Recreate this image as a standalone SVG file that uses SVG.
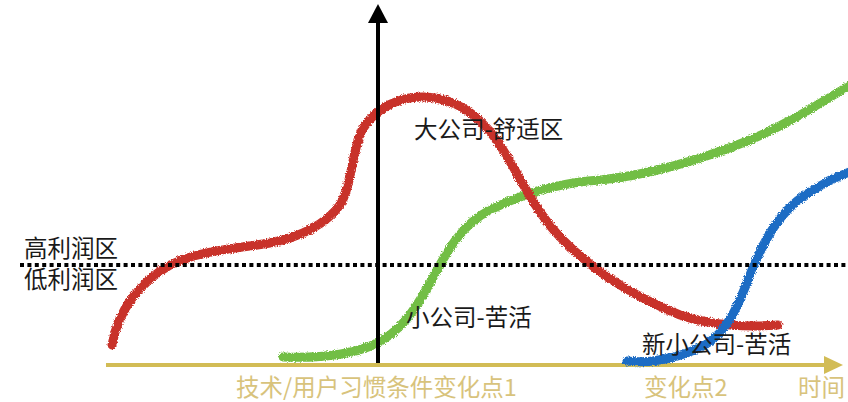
<svg xmlns="http://www.w3.org/2000/svg" width="848" height="402" viewBox="0 0 848 402">
<style>
.curve{fill:none;stroke-width:9;stroke-linecap:round;stroke-linejoin:round;filter:url(#rough)}
.lbl{font-family:"Noto Sans CJK SC","Noto Sans",sans-serif;font-size:23.5px;fill:#1a1a1a}
.gold{font-family:"Noto Sans CJK SC","Noto Sans",sans-serif;font-size:23.5px;fill:#D8C37C}
</style>
<defs>
<filter id="rough" x="-5%" y="-5%" width="110%" height="110%">
<feTurbulence type="fractalNoise" baseFrequency="0.9" numOctaves="2" seed="3" result="n"/>
<feDisplacementMap in="SourceGraphic" in2="n" scale="4" xChannelSelector="R" yChannelSelector="G"/>
</filter>
</defs>
<rect width="848" height="402" fill="#ffffff"/>
<g id="time-axis">
<line x1="106" y1="365" x2="826" y2="365" stroke="#D2BC55" stroke-width="4"/>
<polygon points="824,356 843,365 824,374" fill="#D2BC55"/>
</g>
<g id="connectors">
<path id="green-curve" class="curve" stroke="#72BE44" d="M283,357 C310,358 345,357 373,345 C400,333 415,310 430,283 C445,255 460,225 490,210 C520,195 555,183 600,180 C650,175 700,160 750,140 C790,123 820,103 852,84"/>
<path id="red-curve" class="curve" stroke="#C8302A" d="M112,345 C118,310 140,282 170,265 C200,250 240,248 270,243 C300,237 325,225 340,205 C352,185 352,150 362,130 C375,108 400,96 425,97 C455,98 478,115 495,138 C515,165 530,205 560,237 C590,268 630,295 680,315 C715,327 750,327 778,325"/>
<path id="blue-curve" class="curve" stroke="#1D6CC4" d="M627,361 C650,364 680,358 705,345 C730,330 740,300 752,270 C765,238 780,212 805,195 C822,184 838,176 852,171"/>
</g>
<g id="profit-line">
<line x1="20" y1="265" x2="848" y2="265" stroke="#000" stroke-width="4" stroke-dasharray="4 3.4"/>
</g>
<g id="value-axis">
<line x1="378" y1="363" x2="378" y2="21" stroke="#000" stroke-width="4"/>
<polygon points="378,4 368,23 388,23" fill="#000"/>
</g>
<g id="labels">
<text id="high-profit" class="lbl" x="24" y="257">高利润区</text>
<text id="low-profit" class="lbl" x="24" y="288">低利润区</text>
<text id="big-company" class="lbl" x="414" y="138">大公司-舒适区</text>
<text id="small-company" class="lbl" x="406" y="326">小公司-苦活</text>
<text id="new-small-company" class="lbl" x="642" y="353">新小公司-苦活</text>
<text id="change-point-1" class="gold" x="236" y="396">技术/用户习惯条件变化点1</text>
<text id="change-point-2" class="gold" x="644" y="396">变化点2</text>
<text id="time" class="gold" x="798" y="396">时间</text>
</g>
</svg>
